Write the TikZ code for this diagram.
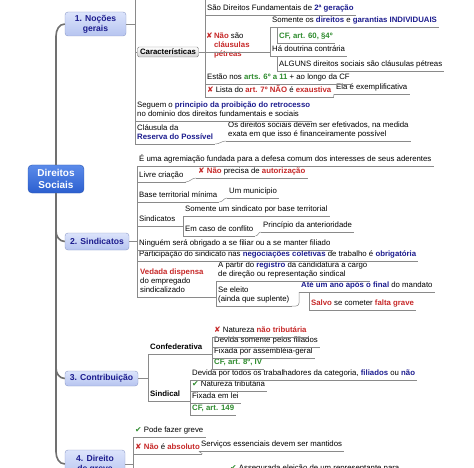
\documentclass[tikz,border=0pt]{standalone}
\usepackage{fontspec}
\setmainfont{Liberation Sans}
\newfontfamily\symf{DejaVu Sans}
\usetikzlibrary{calc}
\definecolor{xred}{HTML}{C62828}
\definecolor{xblue}{HTML}{1C1C8E}
\definecolor{xgreen}{HTML}{2E8B2E}
\definecolor{lncol}{HTML}{8A8A8A}
\definecolor{trunkcol}{HTML}{707070}
\definecolor{HTML5B8BEA}{HTML}{5B8BEA}
\definecolor{HTML2C5FCF}{HTML}{2C5FCF}
\definecolor{HTML2A55B0}{HTML}{2A55B0}
\definecolor{HTMLDCE4FB}{HTML}{DCE4FB}
\definecolor{HTMLB6C4F0}{HTML}{B6C4F0}
\definecolor{HTML8C9AC8}{HTML}{8C9AC8}
\definecolor{HTMLD2D2D2}{HTML}{D2D2D2}
\newcommand{\txtsz}{\fontsize{7.8}{9.1}\selectfont}
\newcommand{\tred}[1]{{\bfseries\color{xred}#1}}
\newcommand{\tblue}[1]{{\bfseries\color{xblue}#1}}
\newcommand{\tgreen}[1]{{\bfseries\color{xgreen}#1}}
\newcommand{\nomark}{{\symf\color{xred}✘}}
\newcommand{\okmark}{{\symf\color{xgreen}✔}}
\tikzset{
  lbl/.style={anchor=south west, inner xsep=2pt, inner ysep=1pt, text depth=3pt, font=\txtsz, align=left},
  lblb/.style={lbl, font=\txtsz\bfseries},
  ln/.style={draw=lncol, line width=0.5pt},
  trunk/.style={draw=trunkcol, line width=1.6pt},
  mainbox/.style={top color=HTML5B8BEA, bottom color=HTML2C5FCF, draw=HTML2A55B0, rounded corners=4pt, text=white, font=\fontsize{10}{12}\selectfont\bfseries, align=center, minimum width=56pt, minimum height=28pt, inner sep=1pt},
  secbox/.style={top color=HTMLDCE4FB, bottom color=HTMLB6C4F0, draw=HTML8C9AC8, rounded corners=3pt, text=xblue, font=\fontsize{8.6}{10}\selectfont\bfseries, align=center, inner sep=1pt},
  catbox/.style={top color=white, bottom color=HTMLD2D2D2, draw=gray, rounded corners=1.5pt, font=\txtsz\bfseries, minimum width=61pt, minimum height=10pt, inner sep=1pt},
}
\begin{document}
\begin{tikzpicture}[x=1pt,y=-1pt]
\useasboundingbox (0,0) rectangle (474,468);
% main and section boxes
\node[mainbox] (root) at (56,179) {Direitos\\Sociais};
\node[secbox, minimum width=61pt, minimum height=24pt] (s1) at (95.5,24) {1. Noções\\gerais};
\node[secbox, minimum width=64pt, minimum height=17pt] (s2) at (97,241.5) {2. Sindicatos};
\node[secbox, minimum width=73pt, minimum height=15pt] (s3) at (101.5,378.5) {3. Contribuição};
\node[secbox, minimum width=60pt, minimum height=28pt] (s4) at (95,464) {4. Direito\\de greve};
\draw[trunk] (root.north) -- (56,36) to[out=90,in=180] (s1.west);
\draw[trunk] (root.south) -- (56,231) to[out=-90,in=180] (s2.west);
\draw[trunk] (root.south) -- (56,368) to[out=-90,in=180] (s3.west);
\draw[trunk] (root.south) -- (56,452) to[out=-90,in=180] (s4.west);

% ---------- Section 1
\coordinate (top1) at (135,-5);
\coordinate (top2) at (205,-5);
\node[catbox] (car) at (168,52) {Características};
\node[lbl] (c1) at (205,15) {São Direitos Fundamentais de \tblue{2ª geração}};
\node[lbl, inner xsep=1pt] (c2) at (205,52) {\begin{tabular}{@{}l@{\,}l@{}}\nomark & \tred{Não} são\\ & \tred{cláusulas}\\ & \tred{pétreas}\end{tabular}\hspace{8pt}};
\node[lbl] (d1) at (270,27) {Somente os \tblue{direitos} e \tblue{garantias INDIVIDUAIS}};
\node[lbl] (e1) at (277,43) {\tgreen{CF, art. 60, §4º}};
\node[lbl] (d2) at (270,56) {Há doutrina contrária};
\node[lbl] (e2) at (277,71) {ALGUNS direitos sociais são cláusulas pétreas};
\node[lbl] (c3) at (205,84) {Estão nos \tgreen{arts. 6º a 11} + ao longo da CF};
\node[lbl] (c4) at (205,97) {\nomark\ Lista do \tred{art. 7º NÃO} é \tred{exaustiva}};
\node[lbl] (c4a) at (334,94) {Ela é exemplificativa};
\node[lbl] (b3) at (135,121) {Seguem o \tblue{principio da proibição do retrocesso}\\no dominio dos direitos fundamentais e sociais};
\node[lbl] (b4) at (135,144) {Cláusula da\\\tblue{Reserva do Possível}\hspace{2pt}};
\node[lbl] (b4a) at (226,141) {Os direitos sociais devem ser efetivados, na medida\\exata em que isso é financeiramente possível};

\draw[ln] (top1) -- (b4.south west);
\draw[ln] (s1.east) -- (s1.east -| top1);
\draw[ln] (car.west -| top1) -- (car.west);
\draw[ln] (car.east) -- (c2.south west);
\draw[ln] (top2) -- (c4.south west);
\foreach \n in {c1,c2,d1,e1,d2,e2,c3,c4,c4a,b3,b4,b4a}{\draw[ln] (\n.south west) -- (\n.south east);}
\draw[ln] (c2.south east) -- (c2.south east -| d1.south west);
\draw[ln] (d1.south west) -- (d2.south west);
\draw[ln] (e1.south west) -- (e1.south west |- d1.south west);
\draw[ln] (e2.south west) -- (e2.south west |- d2.south west);
\draw[ln] (c4.south east) to[out=0,in=180] (c4a.south west);
\draw[ln] (b4.south east) to[out=0,in=180] (b4a.south west);

% ---------- Section 2
\node[lbl] (t1) at (137,166) {É uma agremiação fundada para a defesa comum dos interesses de seus aderentes};
\node[lbl] (t2) at (137,182) {Livre criação};
\node[lbl] (t2a) at (196,178) {\nomark\ \tred{Não} precisa de \tred{autorização}};
\node[lbl] (t3) at (137,202) {Base territorial mínima};
\node[lbl] (t3a) at (227,198) {Um município};
\node[lbl] (t4) at (137,226) {Sindicatos};
\node[lbl] (t4a) at (183,216) {Somente um sindicato por base territorial};
\node[lbl] (t4b) at (183,236) {Em caso de conflito};
\node[lbl] (t4c) at (261,232) {Princípio da anterioridade};
\node[lbl] (t5) at (137,250) {Ninguém será obrigado a se filiar ou a se manter filiado};
\node[lbl] (t6) at (137,261) {Participação do sindicato nas \tblue{negociações coletivas} de trabalho é \tblue{obrigatória}};
\node[lbl, inner xsep=3pt] (t7) at (137,297) {\tred{Vedada dispensa}\\do empregado\\sindicalizado};
\node[lbl] (t7a) at (216,281) {A partir do \tblue{registro} da candidatura a cargo\\de direção ou representação sindical};
\node[lbl] (t7b) at (216,306) {Se eleito\\(ainda que suplente)};
\node[lbl] (t7c) at (299,292) {\tblue{Até um ano após o final} do mandato};
\node[lbl] (t7d) at (309,310) {\tred{Salvo} se cometer \tred{falta grave}};

\draw[ln] (s2.east) -- (s2.east -| t1.south west);
\draw[ln] (t1.south west) -- (t7.south west);
\foreach \n in {t1,t2,t2a,t3,t3a,t4,t4a,t4b,t4c,t5,t6,t7,t7a,t7b,t7c,t7d}{\draw[ln] (\n.south west) -- (\n.south east);}
\draw[ln] (t2.south east) to[out=0,in=180] (t2a.south west);
\draw[ln] (t3.south east) to[out=0,in=180] (t3a.south west);
\draw[ln] (t4b.south east) to[out=0,in=180] (t4c.south west);
\draw[ln] (t4.south east) -- (t4.south east -| t4a.south west);
\draw[ln] (t4a.south west) -- (t4b.south west);
\draw[ln] (t7.south east) -- (t7.south east -| t7a.south west);
\draw[ln] (t7a.south west) -- (t7b.south west);
\draw[ln, rounded corners=3pt] (t7b.south east) -- (t7b.south east -| t7c.south west) -- (t7c.south west);
\draw[ln] (t7d.south west) -- (t7d.south west |- t7c.south west);

% ---------- Section 3
\node[lblb] (u1) at (148,354) {Confederativa};
\node[lblb] (u2) at (148,401) {Sindical};
\node[lbl] (f1) at (212,337) {\nomark\ Natureza \tred{não tributária}};
\node[lbl] (f2) at (212,347) {Devida somente pelos filiados};
\node[lbl] (f3) at (212,358) {Fixada por assembléia-geral};
\node[lbl] (f4) at (212,369) {\tgreen{CF, art. 8º, IV}};
\node[lbl] (g1) at (190,380) {Devida por todos os trabalhadores da categoria, \tblue{filiados} ou \tblue{não}};
\node[lbl] (g2) at (190,391) {\okmark\ Natureza tributária};
\node[lbl] (g3) at (190,403) {Fixada em lei};
\node[lbl] (g4) at (190,415) {\tgreen{CF, art. 149}};

\draw[ln] (s3.east) -- (s3.east -| u1.south west);
\draw[ln] (u1.south west) -- (u2.south west);
\foreach \n in {u1,u2,f1,f2,f3,f4,g1,g2,g3,g4}{\draw[ln] (\n.south west) -- (\n.south east);}
\draw[ln] (u1.south east) -- (u1.south east -| f1.south west);
\draw[ln] (f1.south west) -- (f4.south west);
\draw[ln] (u2.south east) -- (u2.south east -| g1.south west);
\draw[ln] (g1.south west) -- (g4.south west);

% ---------- Section 4
\coordinate (bot4) at (133,480);
\node[lbl] (h1) at (133,437) {\okmark\ Pode fazer greve};
\node[lbl] (h2) at (133,454) {\nomark\ \tred{Não} é \tred{absoluto}};
\node[lbl] (h2a) at (199,451) {Serviços essenciais devem ser mantidos};
\node[lbl] (h3a) at (228,475) {\okmark\ Assegurada eleição de um representante para};

\draw[ln] (s4.east) -- (s4.east -| h1.south west);
\draw[ln] (h1.south west) -- (bot4);
\foreach \n in {h1,h2,h2a}{\draw[ln] (\n.south west) -- (\n.south east);}
\draw[ln] (h2.south east) to[out=0,in=180] (h2a.south west);
\end{tikzpicture}
\end{document}
